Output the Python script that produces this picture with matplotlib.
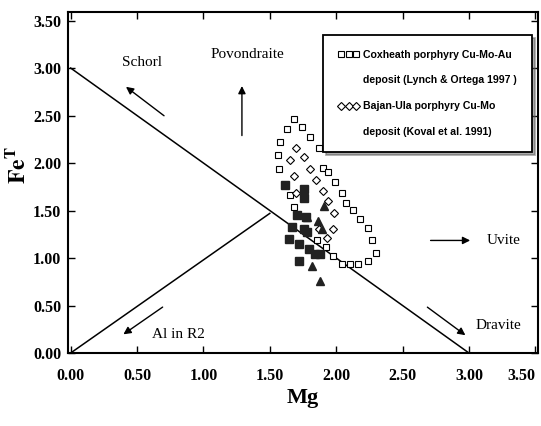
import matplotlib
matplotlib.use('Agg')
import matplotlib.pyplot as plt
from matplotlib.lines import Line2D

plt.rcParams['mathtext.fontset'] = 'stix'

# Coxheath porphyry Cu-Mo-Au deposit (open squares)
cox_mg = [1.685, 1.631, 1.743, 1.804, 1.576, 1.867, 1.561, 1.899, 1.569, 1.937,
          1.991, 2.041, 2.073, 2.128, 2.183, 2.240, 2.272, 2.302, 2.240, 2.166,
          2.103, 2.041, 1.979, 1.922, 1.854, 1.655, 1.685]
cox_fe = [2.462, 2.357, 2.381, 2.275, 2.223, 2.159, 2.082, 1.951, 1.935, 1.906,
          1.801, 1.689, 1.583, 1.502, 1.415, 1.320, 1.186, 1.056, 0.967, 0.940,
          0.940, 0.940, 1.020, 1.115, 1.186, 1.660, 1.537]

# Bajan-Ula porphyry Cu-Mo deposit (open diamonds)
bajan_mg = [1.700, 1.655, 1.760, 1.804, 1.685, 1.849, 1.899, 1.942, 1.984,
            1.979, 1.929, 1.867, 1.700]
bajan_fe = [2.159, 2.030, 2.064, 1.942, 1.864, 1.819, 1.703, 1.597, 1.478,
            1.309, 1.210, 1.309, 1.689]

# this study: filled squares and triangles
sq_mg = [1.618, 1.755, 1.755, 1.705, 1.775, 1.668, 1.755, 1.780, 1.643, 1.718,
         1.793, 1.840, 1.877, 1.718]
sq_fe = [1.773, 1.731, 1.634, 1.449, 1.431, 1.326, 1.309, 1.273, 1.204, 1.151,
         1.098, 1.045, 1.045, 0.964]
tri_mg = [1.909, 1.780, 1.862, 1.892, 1.817, 1.877]
tri_fe = [1.544, 1.431, 1.386, 1.309, 0.915, 0.753]

# boundary lines
line1_mg = [0, 3.0]
line1_fe = [3.0, 0]
line2_mg = [0, 1.5]
line2_fe = [0, 1.47]

ticks = [0, 0.5, 1.0, 1.5, 2.0, 2.5, 3.0, 3.5]
tick_labels = ['%.2f' % t for t in ticks]

# end-member arrows: (label, text xy, arrow tail, arrow head)
arrows = [
    ('Schorl', (0.54, 3.06), (0.72, 2.48), (0.40, 2.82)),
    ('Povondraite', (1.33, 3.14), (1.29, 2.26), (1.29, 2.84)),
    ('Al in R2', (0.81, 0.20), (0.71, 0.50), (0.38, 0.18)),
    ('Uvite', (3.26, 1.185), (2.69, 1.185), (3.03, 1.185)),
    ('Dravite', (3.22, 0.29), (2.67, 0.50), (2.99, 0.17)),
]

fig = plt.figure(figsize=(5.41, 4.26), dpi=100)
ax = fig.add_axes([68/541, 73/426, 470/541, 341/426])

ax.plot(line1_mg, line1_fe, color='black', lw=1.1)
ax.plot(line2_mg, line2_fe, color='black', lw=1.1)

ax.plot(cox_mg, cox_fe, 's', ms=5, mfc='white', mec='black', mew=0.8, ls='none')
ax.plot(bajan_mg, bajan_fe, 'D', ms=4.5, mfc='white', mec='black', mew=0.8, ls='none')
ax.plot(sq_mg, sq_fe, 's', ms=5.5, color='#222222', ls='none')
ax.plot(tri_mg, tri_fe, '^', ms=6, color='#222222', ls='none')

for label, txy, tail, head in arrows:
    ax.annotate('', xy=head, xytext=tail,
                arrowprops=dict(arrowstyle='-|>', color='black', lw=1.0, mutation_scale=11))
    ax.text(txy[0], txy[1], label, ha='center', va='center',
            fontsize=11, family='Liberation Serif')

ax.set_xlim(-0.02, 3.52)
ax.set_ylim(0, 3.59)
ax.set_xticks(ticks)
ax.set_xticklabels(tick_labels)
ax.set_yticks(ticks)
ax.set_yticklabels(tick_labels)
ax.tick_params(direction='in', top=True, right=True, length=5, width=1)
ax.tick_params(axis='x', pad=11)
ax.tick_params(axis='y', pad=5)
for lab in ax.get_xticklabels() + ax.get_yticklabels():
    lab.set_family('Liberation Serif')
    lab.set_fontweight('bold')
    lab.set_fontsize(11.5)
ax.get_xticklabels()[-1].set_horizontalalignment('right')
for sp in ax.spines.values():
    sp.set_linewidth(1.5)

ax.set_xlabel('Mg', fontsize=16, family='Liberation Serif', fontweight='bold', labelpad=3)
ax.set_ylabel(r'$\mathbf{Fe^T}$', fontsize=17, rotation=90)
ax.yaxis.set_label_coords(-0.08, 0.55)

# legend: second line of each entry as a handle-less row
blank = Line2D([], [], ls='none')
handles = [
    Line2D([], [], marker='s', ms=5, mfc='white', mec='black', mew=0.8, ls='none'),
    blank,
    Line2D([], [], marker='D', ms=4.5, mfc='white', mec='black', mew=0.8, ls='none'),
    blank,
]
labels = ['Coxheath porphyry Cu-Mo-Au', 'deposit (Lynch & Ortega 1997 )',
          'Bajan-Ula porphyry Cu-Mo', 'deposit (Koval et al. 1991)']
leg = ax.legend(handles, labels, loc='upper right', bbox_to_anchor=(0.987, 0.933),
                numpoints=3, handlelength=2.0, handletextpad=0.4, labelspacing=1.5,
                borderpad=1.4, borderaxespad=0, fancybox=False, framealpha=1,
                edgecolor='black', shadow={'color': '0.35'},
                prop={'family': 'Liberation Sans', 'weight': 'bold', 'size': 7.6})
leg.get_frame().set_linewidth(1.3)

fig.savefig('out.png', dpi=100)
